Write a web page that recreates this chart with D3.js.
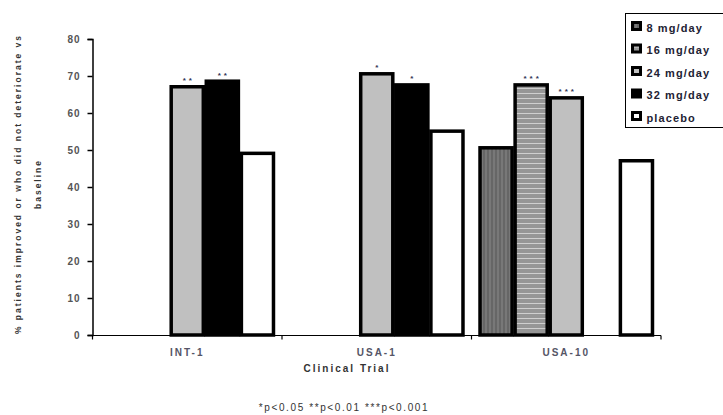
<!DOCTYPE html>
<html><head><meta charset="utf-8">
<script src="https://cdn.jsdelivr.net/npm/d3@7/dist/d3.min.js"></script>
<style>body{margin:0;background:#fff}svg{display:block;font-family:"Liberation Sans",Arial,sans-serif}</style>
</head><body><svg id="c" width="723" height="415"></svg>
<script>
const trials = ["INT-1", "USA-1", "USA-10"];
const series = ["8 mg/day", "16 mg/day", "24 mg/day", "32 mg/day", "placebo"];
const values = {
  "INT-1":  [null, null, 67.5, 69, 49.5],
  "USA-1":  [null, null, 71, 68, 55.5],
  "USA-10": [51, 68, 64.5, null, 47.5]
};
const stars = {
  "INT-1":  [null, null, "**", "**", null],
  "USA-1":  [null, null, "*", "*", null],
  "USA-10": [null, "***", "***", null, null]
};
const yTicks = [0, 10, 20, 30, 40, 50, 60, 70, 80];
const fills = ["url(#p8)", "url(#p16)", "#c0c0c0", "#000", "#fff"];

const svg = d3.select("#c");
const defs = svg.append("defs");
const p8 = defs.append("pattern").attr("id","p8").attr("patternUnits","userSpaceOnUse").attr("width",4).attr("height",4);
p8.append("rect").attr("width",4).attr("height",4).attr("fill","#666");
p8.append("rect").attr("x",2).attr("width",1).attr("height",4).attr("fill","#8a8a8a");
const p16 = defs.append("pattern").attr("id","p16").attr("patternUnits","userSpaceOnUse").attr("width",4).attr("height",5);
p16.append("rect").attr("width",4).attr("height",5).attr("fill","#969696");
p16.append("rect").attr("y",3).attr("width",4).attr("height",1).attr("fill","#cfcfcf");

const x0 = d3.scaleBand().domain(trials).range([92.5, 661]).paddingInner(0).paddingOuter(0);
const x1 = d3.scaleBand().domain(series).range([0, x0.bandwidth()]).paddingInner(0).paddingOuter(0.2);
const y = d3.scaleLinear().domain([0, 80]).range([335, 39]);

// bars
trials.forEach(t => {
  const g = svg.append("g").attr("transform", `translate(${x0(t)},0)`);
  series.forEach((s, i) => {
    const v = values[t][i];
    if (v == null) return;
    g.append("rect").attr("x", x1(s) + 1.5).attr("y", y(v) + 1.5)
      .attr("width", x1.bandwidth() - 3).attr("height", y(0) - y(v) - 1.5)
      .attr("fill", fills[i]).attr("stroke", "#000").attr("stroke-width", 3.5);
    const st = stars[t][i];
    if (st) g.append("text").attr("x", x1(s) + x1.bandwidth()/2 + 1.5).attr("y", y(v) - 2)
      .attr("text-anchor","middle").attr("font-size", 8).attr("font-weight","bold")
      .attr("letter-spacing", 3).attr("fill","#335").text(st);
  });
});

// y axis
const ya = svg.append("g").attr("transform","translate(92.5,0)")
  .call(d3.axisLeft(y).tickValues(yTicks).tickSize(5).tickPadding(7));
ya.select(".domain").attr("stroke","#000").attr("stroke-width",1.5);
ya.selectAll(".tick line").attr("stroke","#000").attr("stroke-width",1.5);
ya.selectAll(".tick text").attr("font-size", 10).attr("font-weight","bold").attr("fill","#555")
  .attr("letter-spacing", 1).attr("font-family","Liberation Sans, Arial, sans-serif");

// x axis
const xa = svg.append("g").attr("transform","translate(0,335.5)");
xa.append("line").attr("x1",92.5).attr("x2",661).attr("stroke","#000").attr("stroke-width",1.2);
const bounds = [x0("INT-1"), x0("USA-1"), x0("USA-10"), x0("USA-10") + x0.bandwidth()];
xa.selectAll("line.tk").data(bounds).join("line").attr("class","tk")
  .attr("x1", d => d).attr("x2", d => d).attr("y1", 0).attr("y2", 4).attr("stroke","#000").attr("stroke-width",1.2);
xa.selectAll("text").data(trials).join("text")
  .attr("x", d => x0(d) + x0.bandwidth()/2).attr("y", 20).attr("text-anchor","middle")
  .attr("font-size", 10).attr("font-weight","bold").attr("fill","#556").attr("letter-spacing", 2).text(d => d);

svg.append("text").attr("x", 347).attr("y", 372).attr("text-anchor","middle")
  .attr("font-size", 10).attr("font-weight","bold").attr("fill","#333").attr("letter-spacing", 2).text("Clinical Trial");
svg.append("text").attr("x", 344).attr("y", 411).attr("text-anchor","middle")
  .attr("font-size", 10).attr("fill","#333").attr("letter-spacing", 1.6).text("*p<0.05 **p<0.01 ***p<0.001");

// y label
const yl = svg.append("text").attr("transform","translate(21,184) rotate(-90)").attr("text-anchor","middle")
  .attr("font-size", 8.5).attr("font-weight","bold").attr("fill","#333").attr("letter-spacing", 2);
yl.append("tspan").attr("x",0).attr("dy",0).text("% patients improved or who did not deteriorate vs");
yl.append("tspan").attr("x",0).attr("dy",20).text("baseline");

// legend
const lg = svg.append("g").attr("transform","translate(625.5,13.5)");
lg.append("rect").attr("width", 110).attr("height", 114).attr("fill","#fff").attr("stroke","#000").attr("stroke-width",1);
series.forEach((s, i) => {
  const ry = 14 + i * 22.5;
  lg.append("rect").attr("x", 7).attr("y", ry - 5).attr("width", 8).attr("height", 7)
    .attr("fill", fills[i]).attr("stroke","#000").attr("stroke-width", 3);
  lg.append("text").attr("x", 21).attr("y", ry + 4).attr("font-size", 11).attr("font-weight","bold")
    .attr("fill","#223").attr("letter-spacing", 1.1).text(s);
});
</script></body></html>
